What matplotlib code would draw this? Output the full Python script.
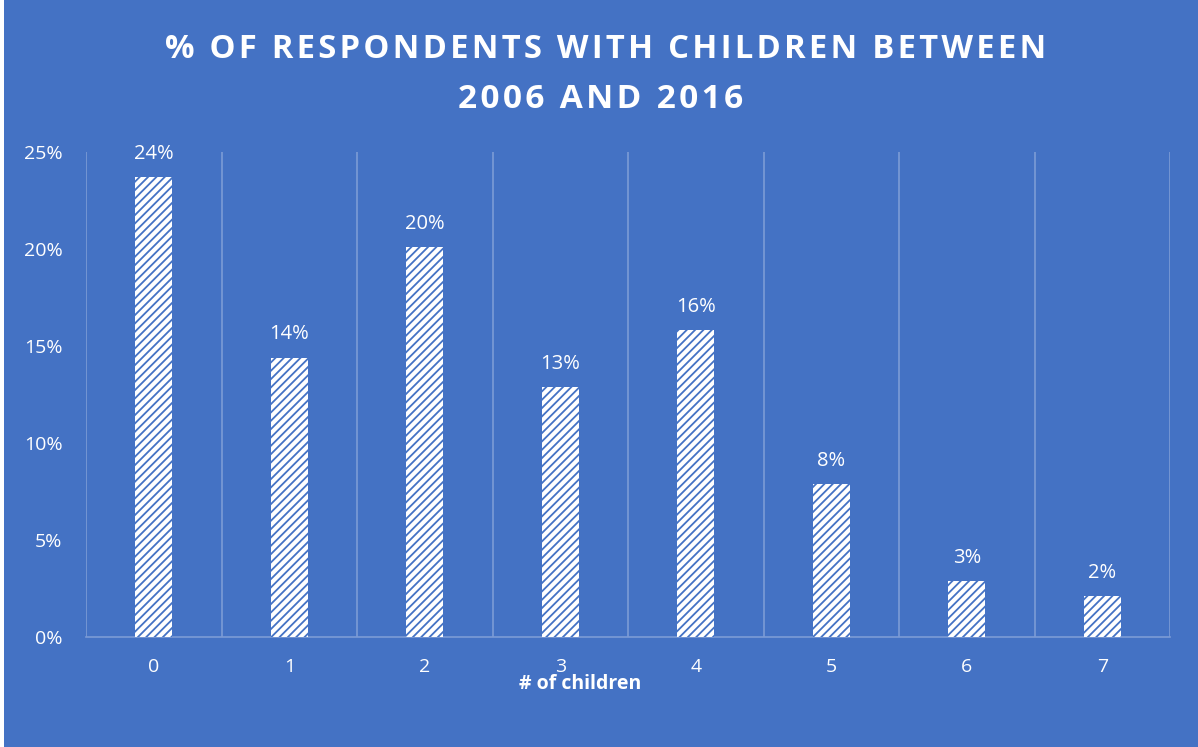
import matplotlib
matplotlib.use("Agg")
import matplotlib.pyplot as plt
from matplotlib.patches import Rectangle
from matplotlib.ticker import FixedLocator, PercentFormatter
import numpy as np

categories = ["0", "1", "2", "3", "4", "5", "6", "7"]
values = [0.237, 0.144, 0.201, 0.129, 0.158, 0.079, 0.029, 0.021]
labels = ["24%", "14%", "20%", "13%", "16%", "8%", "3%", "2%"]
yticks = [0, 0.05, 0.10, 0.15, 0.20, 0.25]
title_lines = ["% OF RESPONDENTS WITH CHILDREN BETWEEN", "2006 AND 2016"]

BG = "#4472C4"
GRID = "#7C9BD6"
FONT = "Open Sans"

plt.rcParams["hatch.linewidth"] = 1.3
plt.rcParams["font.family"] = [FONT, "DejaVu Sans"]

fig = plt.figure(figsize=(11.98, 7.47), dpi=100)
fig.patch.set_facecolor("white")
fig.patches.append(Rectangle((4 / 1198, 0), 1, 1, transform=fig.transFigure,
                             facecolor=BG, edgecolor="none", zorder=-10))

ax = fig.add_axes([86 / 1198, 1 - 637 / 747, (1170 - 86) / 1198, (637 - 152) / 747])
ax.set_facecolor(BG)
ax.patch.set_alpha(0)

x = np.arange(len(categories))
bars = ax.bar(x, values, width=0.275, color="white", edgecolor=BG,
              linewidth=0, hatch="////", zorder=3)

for xi, v, lab in zip(x, values, labels):
    ax.annotate(lab, (xi, v), xytext=(0, 9.5), textcoords="offset points",
                ha="center", va="bottom", color="white", fontsize=14.5)

ax.set_xlim(-0.5, len(categories) - 0.5)
ax.set_ylim(0, 0.25)
ax.set_xticks(x)
ax.set_xticklabels(categories)
ax.xaxis.set_minor_locator(FixedLocator(np.arange(-0.5, len(categories), 1.0)))
ax.grid(which="minor", axis="x", color=GRID, linewidth=1.2, zorder=0)
ax.set_yticks(yticks)
ax.yaxis.set_major_formatter(PercentFormatter(1.0, decimals=0))

for s in ["top", "right", "left"]:
    ax.spines[s].set_visible(False)
ax.spines["bottom"].set_color(GRID)
ax.spines["bottom"].set_linewidth(1.2)

ax.tick_params(axis="both", which="both", length=0, colors="white", labelsize=14)
ax.tick_params(axis="y", pad=17)
ax.tick_params(axis="x", pad=15)

fig.text(580 / 1198, 1 - 684 / 747, "# of children", ha="center", va="center",
         color="white", fontsize=14, fontweight="bold")

HS = "\u200a"
spaced = ["".join(c + HS for c in line).rstrip(HS) for line in title_lines]
fig.text(606 / 1198, 1 - 49 / 747, spaced[0], ha="center", va="center",
         color="white", fontsize=23.6, fontweight="bold")
fig.text(601 / 1198, 1 - 99 / 747, spaced[1], ha="center", va="center",
         color="white", fontsize=24, fontweight="bold")

fig.savefig("out.png", dpi=100, facecolor=fig.get_facecolor())
